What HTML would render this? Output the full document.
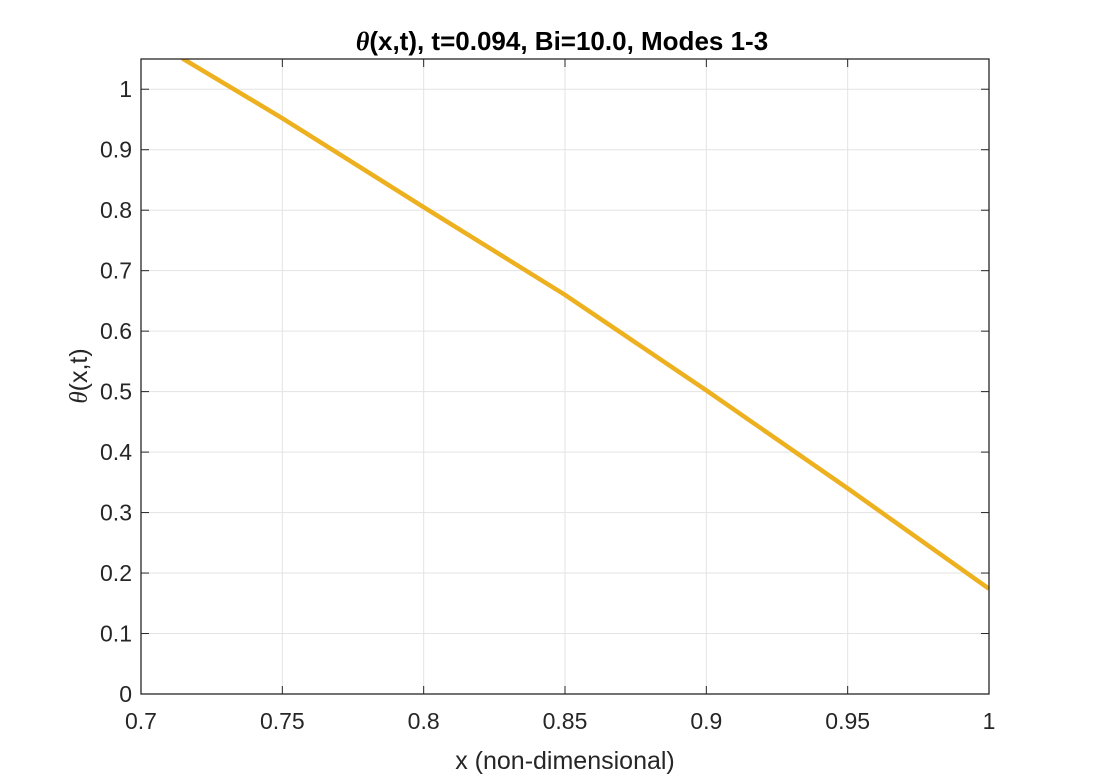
<!DOCTYPE html>
<html><head><meta charset="utf-8"><style>
body{margin:0;background:#fff;}
svg{display:block;font-family:"Liberation Sans",sans-serif;}
</style></head><body>
<svg id="chart" width="1094" height="781" viewBox="0 0 1094 781"></svg>
<script>
const xValues=[0.70,0.715,0.75,0.80,0.85,0.90,0.95,1.00];
const thetaValues=[1.11,1.05,0.952,0.805,0.66,0.502,0.34,0.174];
const xTicks=[0.7,0.75,0.8,0.85,0.9,0.95,1];
const xTickLabels=["0.7","0.75","0.8","0.85","0.9","0.95","1"];
const yTicks=[0,0.1,0.2,0.3,0.4,0.5,0.6,0.7,0.8,0.9,1];
const yTickLabels=["0","0.1","0.2","0.3","0.4","0.5","0.6","0.7","0.8","0.9","1"];
const NS="http://www.w3.org/2000/svg";
const svg=document.getElementById('chart');
const L=141,R=989,T=59,B=694,xmin=0.7,xmax=1,ymin=0,ymax=1.05;
const sx=v=>L+(v-xmin)/(xmax-xmin)*(R-L);
const sy=v=>B-(v-ymin)/(ymax-ymin)*(B-T);
function mk(tag,attrs,parent){const e=document.createElementNS(NS,tag);for(const k in attrs)e.setAttribute(k,attrs[k]);(parent||svg).appendChild(e);return e;}
mk('rect',{x:L,y:T,width:R-L,height:B-T,fill:'#fff'});
const defs=mk('defs',{});const cp=mk('clipPath',{id:'clip'},defs);mk('rect',{x:L,y:T,width:R-L,height:B-T},cp);
xTicks.forEach((v,i)=>{
  const g=mk('line',{x1:sx(v),x2:sx(v),y1:T,y2:B,stroke:'#e3e3e3','stroke-width':1});
  
  mk('line',{x1:sx(v),x2:sx(v),y1:B,y2:B-8,stroke:'#262626'});
  mk('line',{x1:sx(v),x2:sx(v),y1:T,y2:T+8,stroke:'#262626'});
  const t=mk('text',{x:sx(v),y:729,'text-anchor':'middle','font-size':23,fill:'#262626'});
  t.textContent=xTickLabels[i];
  
});
yTicks.forEach((v,i)=>{
  const g=mk('line',{x1:L,x2:R,y1:sy(v),y2:sy(v),stroke:'#e3e3e3','stroke-width':1});
  
  mk('line',{x1:L,x2:L+8,y1:sy(v),y2:sy(v),stroke:'#262626'});
  mk('line',{x1:R,x2:R-8,y1:sy(v),y2:sy(v),stroke:'#262626'});
  const t=mk('text',{x:L-9,y:sy(v)+8,'text-anchor':'end','font-size':23,fill:'#262626'});
  t.textContent=yTickLabels[i];
  
});
const line=mk('polyline',{points:xValues.map((x,i)=>sx(x)+','+sy(thetaValues[i])).join(' '),fill:'none',stroke:'#EDB120','stroke-width':4.5,'clip-path':'url(#clip)'});

const box=mk('rect',{x:L,y:T,width:R-L,height:B-T,fill:'none',stroke:'#262626','stroke-width':1.3});

const title=mk('text',{x:562,y:50,'text-anchor':'middle','font-size':26,'font-weight':'bold',fill:'#000'});
title.innerHTML='<tspan font-family="Liberation Serif" font-style="italic">θ</tspan>(x,t), t=0.094, Bi=10.0, Modes 1-3';

const xl=mk('text',{x:565,y:769,'text-anchor':'middle','font-size':25,fill:'#262626'});
xl.textContent='x (non-dimensional)';

const yl=mk('text',{x:0,y:0,'text-anchor':'middle','font-size':25,fill:'#262626',transform:'translate(87,376) rotate(-90)'});
yl.innerHTML='<tspan font-family="Liberation Serif" font-style="italic">θ</tspan>(x,t)';

</script>
</body></html>
